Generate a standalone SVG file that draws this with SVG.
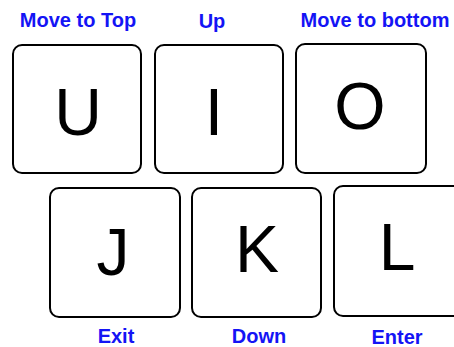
<svg xmlns="http://www.w3.org/2000/svg" width="454" height="347" viewBox="0 0 454 347">
<style>
.key{fill:#fff;stroke:#000;stroke-width:2}
.k{font-family:"Liberation Sans",Arial,sans-serif;font-size:66px;fill:#000;text-anchor:middle}
.lbl{font-family:"Liberation Sans",Arial,sans-serif;font-size:20px;font-weight:bold;fill:#1414f5;text-anchor:middle}
</style>
<rect width="454" height="347" fill="#fff"/>
<g id="key-u"><rect class="key" x="13" y="45" width="128" height="128" rx="9"/><text class="k" x="78" y="135">U</text></g>
<g id="key-i"><rect class="key" x="155" y="45" width="128" height="128" rx="9"/><text class="k" x="214" y="135">I</text></g>
<g id="key-o"><rect class="key" x="296" y="44" width="130" height="129" rx="9"/><text class="k" x="360" y="129">O</text></g>
<g id="key-j"><rect class="key" x="50" y="188" width="130" height="129" rx="9"/><text class="k" x="113" y="275">J</text></g>
<g id="key-k"><rect class="key" x="192" y="188" width="129" height="129" rx="9"/><text class="k" x="257" y="272">K</text></g>
<g id="key-l"><rect class="key" x="334" y="186" width="130" height="130" rx="9"/><text class="k" x="397" y="270">L</text></g>
<g id="labels">
<text class="lbl" x="78" y="27">Move to Top</text>
<text class="lbl" x="212" y="28">Up</text>
<text class="lbl" x="375" y="27">Move to bottom</text>
<text class="lbl" x="116" y="343">Exit</text>
<text class="lbl" x="259" y="343">Down</text>
<text class="lbl" x="397" y="344">Enter</text>
</g>
<g id="connectors"/>
</svg>
